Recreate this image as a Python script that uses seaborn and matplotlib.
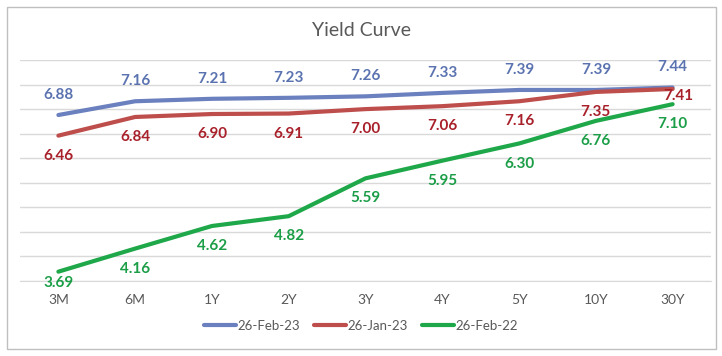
import pandas as pd
import numpy as np
import matplotlib
matplotlib.use('Agg')
import matplotlib.pyplot as plt
import seaborn as sns
from matplotlib.patches import Rectangle

# chart data
tenors = ['3M', '6M', '1Y', '2Y', '3Y', '4Y', '5Y', '10Y', '30Y']
feb23 = [6.88, 7.16, 7.21, 7.23, 7.26, 7.33, 7.39, 7.39, 7.44]
jan23 = [6.46, 6.84, 6.90, 6.91, 7.00, 7.06, 7.16, 7.35, 7.41]
feb22 = [3.69, 4.16, 4.62, 4.82, 5.59, 5.95, 6.30, 6.76, 7.10]
series_names = ['26-Feb-23', '26-Jan-23', '26-Feb-22']

line_colors = ['#6B80BE', '#BE4E4B', '#1FA84A']
text_colors = ['#5A73B0', '#A8202A', '#1B9E47']

df = pd.DataFrame({
    'tenor': tenors * 3,
    'yield': feb23 + jan23 + feb22,
    'series': np.repeat(series_names, len(tenors)),
})

sns.set_style('white')
plt.rcParams['font.family'] = ['Lato', 'DejaVu Sans']

W, H = 722, 356
fig = plt.figure(figsize=(W / 100, H / 100), dpi=100)
ax = fig.add_axes([20 / W, 1 - 281 / H, 691 / W, 221 / H])

sns.lineplot(data=df, x='tenor', y='yield', hue='series', hue_order=series_names,
             palette=line_colors, linewidth=3, sort=False, ax=ax, legend=True)

ax.set_xlim(-0.5, len(tenors) - 0.5)
ax.set_ylim(3.5, 8.0)
ax.set_yticks(np.arange(3.5, 8.01, 0.5))
ax.yaxis.grid(True, color='#D9D9D9', linewidth=1)
ax.set_axisbelow(True)
ax.tick_params(axis='y', left=False, labelleft=False)
ax.tick_params(axis='x', length=0, pad=9, labelsize=10, labelcolor='#595959')
for s in ['top', 'left', 'right']:
    ax.spines[s].set_visible(False)
ax.spines['bottom'].set_color('#D9D9D9')
ax.set_xlabel('')
ax.set_ylabel('')

# data labels: first series above, others below (a couple nudged by hand)
all_vals = [feb23, jan23, feb22]
for k, vals in enumerate(all_vals):
    dy = 14.5 if k == 0 else -14.5
    for i, v in enumerate(vals):
        off = (0, dy)
        if k == 1 and i == len(vals) - 1:
            off = (4, -5)
        if k == 2 and i == 0:
            off = (0, -8)
        ax.annotate(f'{v:.2f}', (i, v), xytext=off, textcoords='offset points',
                    ha='center', va='center', fontsize=11, fontweight='bold',
                    color=text_colors[k])

fig.text(0.5, 1 - 30 / H, 'Yield Curve', ha='center', va='center',
         fontsize=14, color='#595959')

handles, labels = ax.get_legend_handles_labels()
ax.legend(handles, labels, loc='center', bbox_to_anchor=(0.5, 1 - 326 / H),
          bbox_transform=fig.transFigure, ncol=3, frameon=False, fontsize=9.5,
          labelcolor='#595959', handlelength=2.4, handletextpad=0.1,
          columnspacing=1.1)

fig.patches.append(Rectangle((7 / W, 1 - 349 / H), 709 / W, 342 / H,
                             transform=fig.transFigure, fill=False,
                             edgecolor='#BFBFBF', linewidth=1))

fig.savefig('out.png', dpi=100)
